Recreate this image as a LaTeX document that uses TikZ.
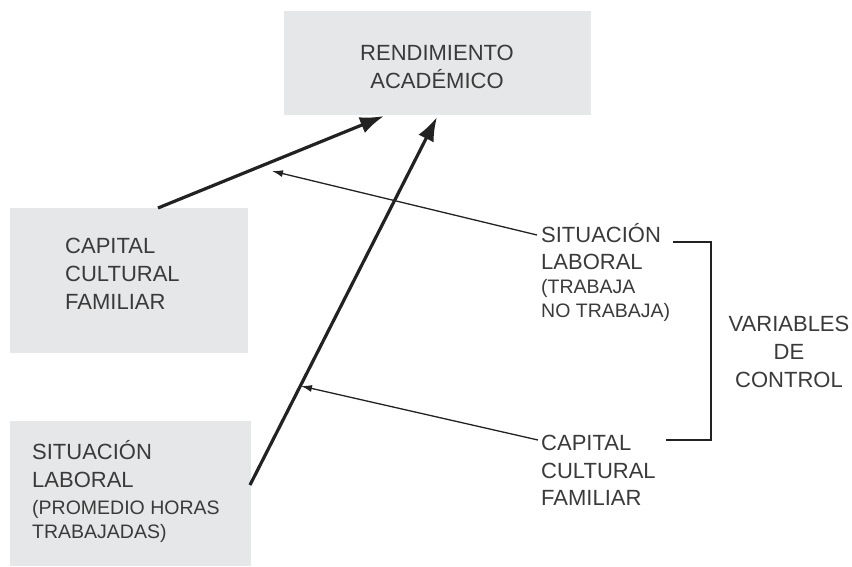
\documentclass[tikz,border=0pt]{standalone}
\usepackage{fontspec}
\setmainfont{Liberation Sans}
\usetikzlibrary{arrows.meta}
\definecolor{boxgray}{HTML}{E6E7E9}
\definecolor{txtgray}{HTML}{3A3A3A}
\definecolor{linegray}{HTML}{222222}
\begin{document}
\begin{tikzpicture}[x=1pt,y=-1pt,
  boxstyle/.style={draw=none,fill=boxgray,inner sep=0pt,anchor=north west},
  bigtxt/.style={anchor=base west,inner sep=0pt,text=txtgray,font=\fontsize{22}{27}\selectfont},
  smalltxt/.style={anchor=base west,inner sep=0pt,text=txtgray,font=\fontsize{19.5}{24}\selectfont},
  bigc/.style={anchor=base,inner sep=0pt,text=txtgray,font=\fontsize{22}{27}\selectfont},
  thickarrow/.style={draw=linegray,line width=3.2pt,-{Latex[length=24pt,width=17pt]}},
  thinarrow/.style={draw=linegray,line width=1.3pt,-{Latex[length=11pt,width=7pt]}},
  bracketline/.style={draw=linegray,line width=1.5pt}]
\useasboundingbox (0,0) rectangle (852,566);
% boxes
\node[boxstyle,minimum width=307pt,minimum height=104pt] (topbox) at (284,11) {};
\node[boxstyle,minimum width=238pt,minimum height=145pt] (capbox) at (10,208) {};
\node[boxstyle,minimum width=241pt,minimum height=145pt] (sitbox) at (10,421) {};
% top text
\node[bigc] (r1) at (437,60) {RENDIMIENTO};
\node[bigc] (r2) at (437,88) {ACADÉMICO};
% capital box text
\node[bigtxt] (c1) at (65,253) {CAPITAL};
\node[bigtxt] (c2) at (65,281) {CULTURAL};
\node[bigtxt] (c3) at (65,309) {FAMILIAR};
% situacion box text
\node[bigtxt] (s1) at (32,459) {SITUACIÓN};
\node[bigtxt] (s2) at (32,487) {LABORAL};
\node[smalltxt] (s3) at (32,514) {(PROMEDIO HORAS};
\node[smalltxt] (s4) at (32,538) {TRABAJADAS)};
% right: situacion
\node[bigtxt] (rs1) at (541,242) {SITUACIÓN};
\node[bigtxt] (rs2) at (541,269) {LABORAL};
\node[smalltxt] (rs3) at (541,293) {(TRABAJA};
\node[smalltxt] (rs4) at (541,317) {NO TRABAJA)};
% right: capital
\node[bigtxt] (rc1) at (541,450) {CAPITAL};
\node[bigtxt] (rc2) at (541,478) {CULTURAL};
\node[bigtxt] (rc3) at (541,505) {FAMILIAR};
% variables de control
\node[bigc] (v1) at (789,331) {VARIABLES};
\node[bigc] (v2) at (789,359) {DE};
\node[bigc] (v3) at (789,387) {CONTROL};
% connector end points
\coordinate (a1s) at (158,208);
\coordinate (a1e) at (384,116);
\coordinate (a2s) at (250,485);
\coordinate (a2e) at (437,117);
\coordinate (t1s) at (537,235);
\coordinate (t1e) at (272,171);
\coordinate (t2s) at (538,440);
\coordinate (t2e) at (301,386);
\coordinate (b1) at (673,242);
\coordinate (b2) at (711,242);
\coordinate (b3) at (711,440);
\coordinate (b4) at (666,440);
% arrows
\draw[thickarrow] (a1s) -- (a1e);
\draw[thickarrow] (a2s) -- (a2e);
\draw[thinarrow] (t1s) -- (t1e);
\draw[thinarrow] (t2s) -- (t2e);
\draw[bracketline] (b1) -- (b2) -- (b3) -- (b4);
\end{tikzpicture}
\end{document}
